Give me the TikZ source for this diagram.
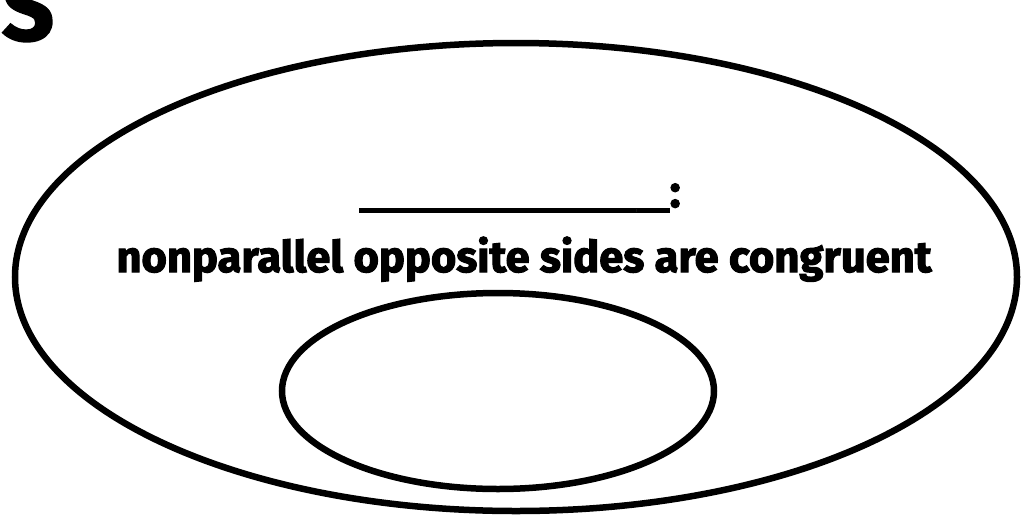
\documentclass[tikz,border=0pt]{standalone}
\usepackage{fontspec}
\setmainfont{Fira Sans}[BoldFeatures={FakeBold=2.5}]
\usetikzlibrary{positioning,shapes.geometric}

\begin{document}
\begin{tikzpicture}[x=1pt, y=-1pt,
  ring/.style={draw, ellipse, line width=6.5pt, inner sep=0pt},
  blank/.style={font=\fontsize{32}{36}\selectfont\bfseries, inner sep=0pt, anchor=base},
  rule/.style={font=\fontsize{43.5}{46}\selectfont\bfseries, inner sep=0pt, anchor=base}]
\useasboundingbox (0,0) rectangle (1026,515);
% clipped heading letter
\node[font=\fontsize{90}{90}\selectfont\bfseries, inner sep=0pt, anchor=base east] (title) at (54,40) {S};
% the two sets
\node[ring, minimum width=1002pt, minimum height=468pt] (outer) at (516,277) {};
\node[ring, minimum width=432pt, minimum height=196pt] (inner) at (498,391) {};
% name and property
\node[blank] (name) at (520,207) {\_\_\_\_\_\_\_\_\_\_\_\_\_\_\_\_\_\_\_{\fontsize{46}{46}\selectfont:}};
\node[rule] (prop) at (524,272) {nonparallel opposite sides are congruent};
\end{tikzpicture}
\end{document}
